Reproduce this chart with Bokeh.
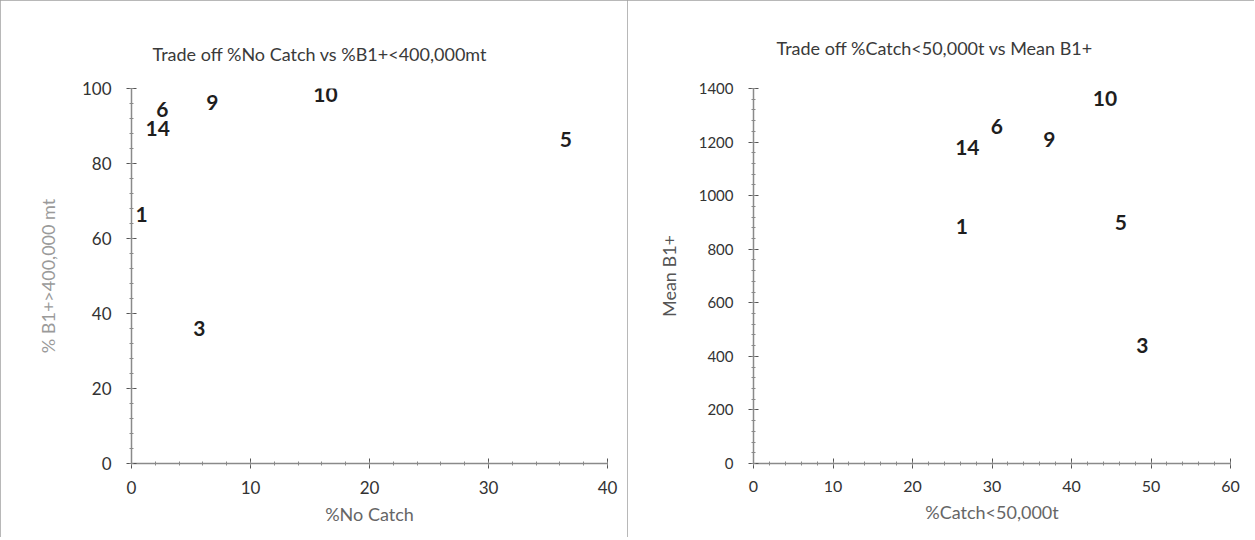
from bokeh.plotting import figure
from bokeh.layouts import row
from bokeh.models import ColumnDataSource, FixedTicker, Range1d, LabelSet
from bokeh.core.properties import value
from bokeh.embed import file_html
from bokeh.resources import INLINE

# Left chart: %No Catch vs %B1+>400,000 mt
left_labels = ["10", "9", "6", "14", "5", "1", "3"]
left_no_catch = [16.3, 6.8, 2.6, 2.2, 36.5, 0.85, 5.7]
left_b1_pct = [98.4, 96.3, 94.5, 89.4, 86.3, 66.5, 36.1]

# Right chart: %Catch<50,000t vs Mean B1+
right_labels = ["10", "6", "14", "9", "1", "5", "3"]
right_catch = [44.2, 30.6, 26.9, 37.2, 26.2, 46.2, 48.9]
right_mean_b1 = [1363, 1260, 1178, 1208, 883, 898, 440]

left_xticks = [0, 10, 20, 30, 40]
left_yticks = [0, 20, 40, 60, 80, 100]
right_xticks = [0, 10, 20, 30, 40, 50, 60]
right_yticks = [0, 200, 400, 600, 800, 1000, 1200, 1400]

FONT = "Lato"
W, H = 627, 537


def make_fig(title, xs, ys, labels, xr, yr, xt, yt, xlabel, ylabel, borders,
             title_offset, title_standoff, label_size, xtick_size, ytick_size,
             xtitle_size, ytitle_size, ytitle_standoff, ytitle_color):
    bl, br, bt, bb = borders
    p = figure(width=W, height=H, output_backend="svg", toolbar_location=None,
               x_range=Range1d(*xr), y_range=Range1d(*yr),
               min_border_left=bl, min_border_right=br, min_border_top=bt, min_border_bottom=bb,
               title=title)
    p.styles = {"outline": "1px solid #a0a0a0", "outline-offset": "-1px"}
    p.title.align = "left"
    p.title.offset = title_offset
    p.title.standoff = title_standoff
    p.title.text_font = FONT
    p.title.text_font_size = "18px"
    p.title.text_font_style = "normal"
    p.title.text_color = "#3a3a3a"
    p.outline_line_color = None
    p.grid.visible = False
    step_x = xt[1] - xt[0]
    step_y = yt[1] - yt[0]
    p.xaxis.ticker = FixedTicker(ticks=xt, minor_ticks=[i * step_x / 5 for i in range(0, 5 * (len(xt) - 1) + 1)])
    p.yaxis.ticker = FixedTicker(ticks=yt, minor_ticks=[i * step_y / 5 for i in range(0, 5 * (len(yt) - 1) + 1)])
    for ax in (p.xaxis, p.yaxis):
        ax.axis_line_color = "#8a8a8a"
        ax.axis_line_width = 1.5
        ax.major_tick_line_color = "#555555"
        ax.minor_tick_line_color = "#8a8a8a"
        ax.major_tick_in = 5
        ax.major_tick_out = 5
        ax.minor_tick_in = 2
        ax.minor_tick_out = 2
        ax.major_label_text_font = FONT
        ax.major_label_text_color = "#333333"
        ax.axis_label_text_font = FONT
        ax.axis_label_text_font_style = "normal"
    p.xaxis.major_label_text_font_size = xtick_size
    p.yaxis.major_label_text_font_size = ytick_size
    p.xaxis.axis_label_text_font_size = xtitle_size
    p.yaxis.axis_label_text_font_size = ytitle_size
    p.xaxis.axis_label_text_color = "#666666"
    p.yaxis.axis_label_text_color = ytitle_color
    p.xaxis.axis_label = xlabel
    p.yaxis.axis_label = ylabel
    p.xaxis.major_label_standoff = 12
    p.yaxis.major_label_standoff = 15
    p.xaxis.axis_label_standoff = 6
    p.yaxis.axis_label_standoff = ytitle_standoff
    src = ColumnDataSource(dict(x=xs, y=ys, t=labels))
    # invisible anchor glyph so the ranges/scales own the points
    p.scatter(x="x", y="y", source=src, size=1, alpha=0)
    ls = LabelSet(x="x", y="y", text="t", source=src, text_align="center",
                  text_baseline="middle", text_font=value(FONT), text_font_size=value(label_size),
                  text_font_style="bold", text_color="#1e1e1e")
    p.add_layout(ls)
    return p


p1 = make_fig("Trade off %No Catch vs %B1+<400,000mt", left_no_catch, left_b1_pct, left_labels,
              (0, 40), (0, 100), left_xticks, left_yticks, "%No Catch", "% B1+>400,000 mt",
              (131, 20, 84, 74), 21, 47, "21px", "17px", "17px", "18px", "18px", 20, "#9a9a9a")
p2 = make_fig("Trade off %Catch<50,000t vs Mean B1+", right_catch, right_mean_b1, right_labels,
              (0, 60), (0, 1400), right_xticks, right_yticks, "%Catch<50,000t", "Mean B1+",
              (126, 24, 88, 70), 23, 60, "21px", "16px", "15px", "18px", "18px", 16, "#555555")

layout = row(p1, p2)
open("out.html", "w").write(file_html(layout, INLINE))
